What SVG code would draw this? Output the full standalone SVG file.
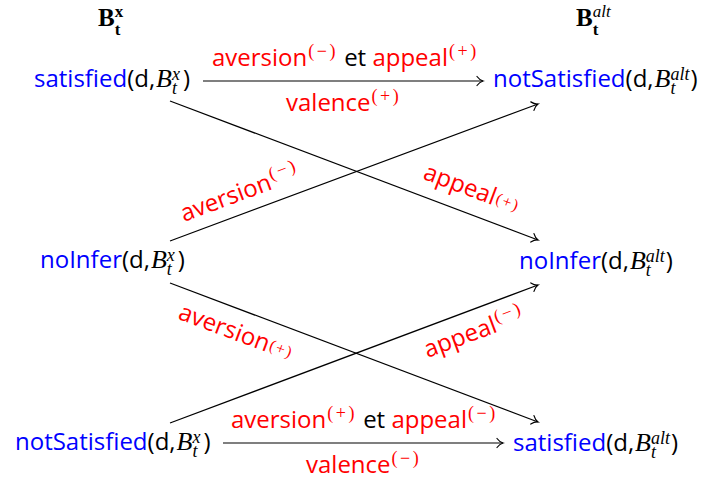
<svg xmlns="http://www.w3.org/2000/svg" width="705" height="483" viewBox="0 0 705 483">
<style>
text{font-family:"Open Sans","Noto Sans","DejaVu Sans",sans-serif;font-size:24px;fill:#000}
.b{fill:#0000ff}
.r{fill:#ff0000}
.mi{font-family:"Liberation Serif","Times New Roman",serif;font-style:italic;font-size:26px}
.ms{font-family:"Liberation Serif","Times New Roman",serif;font-style:italic;font-size:18px}
.sup{font-family:"Liberation Serif","Times New Roman",serif;font-size:18px;letter-spacing:2.5px;fill:#ff0000}
.sm{font-family:"Liberation Serif","Times New Roman",serif;font-size:16px;letter-spacing:1.5px;fill:#ff0000}
.hb{font-family:"Liberation Serif","Times New Roman",serif;font-weight:bold;font-size:25px}
.hs{font-family:"Liberation Serif","Times New Roman",serif;font-weight:bold;font-size:17px}
.hi{font-family:"Liberation Serif","Times New Roman",serif;font-style:italic;font-size:17px}
.edge{stroke:#000;stroke-width:1.2;fill:none;marker-end:url(#arr)}
</style>
<defs>
<marker id="arr" markerUnits="userSpaceOnUse" viewBox="-8 -6 10 12" refX="0" refY="0" markerWidth="10" markerHeight="12" orient="auto">
<path d="M-6,-4.5 C-4,-1.8 -1.8,-0.5 0,0 C-1.8,0.5 -4,1.8 -6,4.5" stroke="#000" stroke-width="1.2" fill="none" stroke-linecap="round"/>
</marker>
</defs>

<g id="headers">
<text x="98" y="26"><tspan class="hb">B</tspan><tspan class="hs" dy="9">t</tspan><tspan class="hs" dx="-5.7" dy="-18">x</tspan></text>
<text x="576" y="26"><tspan class="hb">B</tspan><tspan class="hs" dy="9">t</tspan><tspan class="hi" dx="-5.7" dy="-18">alt</tspan></text>
</g>

<g id="connectors">
<line class="edge" x1="203" y1="81" x2="483" y2="81"/>
<line class="edge" x1="223" y1="443" x2="503" y2="443"/>
<line class="edge" x1="170" y1="101" x2="538" y2="240"/>
<line class="edge" x1="170" y1="241" x2="538" y2="104"/>
<line class="edge" x1="170" y1="283" x2="538" y2="422"/>
<line class="edge" x1="170" y1="423" x2="538" y2="285"/>
</g>

<g id="labels">
<text x="212" y="66"><tspan class="r">aversion</tspan><tspan class="sup" dx="1" dy="-9">(−)</tspan><tspan dy="9"> et </tspan><tspan class="r">appeal</tspan><tspan class="sup" dx="1" dy="-9">(+)</tspan></text>
<text x="286" y="111"><tspan class="r">valence</tspan><tspan class="sup" dx="1" dy="-9">(+)</tspan></text>
<text x="231" y="428"><tspan class="r">aversion</tspan><tspan class="sup" dx="1" dy="-9">(+)</tspan><tspan dy="9"> et </tspan><tspan class="r">appeal</tspan><tspan class="sup" dx="1" dy="-9">(−)</tspan></text>
<text x="306" y="473"><tspan class="r">valence</tspan><tspan class="sup" dx="1" dy="-9">(−)</tspan></text>
<text transform="translate(184,222) rotate(-20.4)"><tspan class="r">aversion</tspan><tspan class="sup" dx="1" dy="-9">(−)</tspan></text>
<text transform="translate(422,178.5) rotate(20.7)"><tspan class="r">appeal</tspan><tspan class="sm" dx="1" dy="-3">(+)</tspan></text>
<text transform="translate(177,318.5) rotate(20.6)"><tspan class="r">aversion</tspan><tspan class="sm" dx="1" dy="-3">(+)</tspan></text>
<text transform="translate(427.5,358) rotate(-20.4)"><tspan class="r">appeal</tspan><tspan class="sup" dx="1" dy="-9">(−)</tspan></text>
</g>

<g id="satisfied-x">
<text x="34" y="87"><tspan class="b">satisfied</tspan><tspan>(d,</tspan><tspan class="mi" dx="1">B</tspan><tspan class="ms" dy="7">t</tspan><tspan class="ms" dx="-5" dy="-14">x</tspan><tspan dx="3" dy="7">)</tspan></text>
</g>
<g id="noInfer-x">
<text x="40" y="268"><tspan class="b">noInfer</tspan><tspan>(d,</tspan><tspan class="mi" dx="1">B</tspan><tspan class="ms" dy="7">t</tspan><tspan class="ms" dx="-5" dy="-14">x</tspan><tspan dx="3" dy="7">)</tspan></text>
</g>
<g id="notSatisfied-x">
<text x="15" y="450"><tspan class="b">notSatisfied</tspan><tspan>(d,</tspan><tspan class="mi" dx="1">B</tspan><tspan class="ms" dy="7">t</tspan><tspan class="ms" dx="-5" dy="-14">x</tspan><tspan dx="3" dy="7">)</tspan></text>
</g>
<g id="notSatisfied-alt">
<text x="493" y="87"><tspan class="b">notSatisfied</tspan><tspan>(d,</tspan><tspan class="mi" dx="1">B</tspan><tspan class="ms" dy="7">t</tspan><tspan class="ms" dx="-5" dy="-14">alt</tspan><tspan dx="1" dy="7">)</tspan></text>
</g>
<g id="noInfer-alt">
<text x="519" y="269"><tspan class="b">noInfer</tspan><tspan>(d,</tspan><tspan class="mi" dx="1">B</tspan><tspan class="ms" dy="7">t</tspan><tspan class="ms" dx="-5" dy="-14">alt</tspan><tspan dx="1" dy="7">)</tspan></text>
</g>
<g id="satisfied-alt">
<text x="513" y="451"><tspan class="b">satisfied</tspan><tspan>(d,</tspan><tspan class="mi" dx="1">B</tspan><tspan class="ms" dy="7">t</tspan><tspan class="ms" dx="-5" dy="-14">alt</tspan><tspan dx="1" dy="7">)</tspan></text>
</g>
</svg>
